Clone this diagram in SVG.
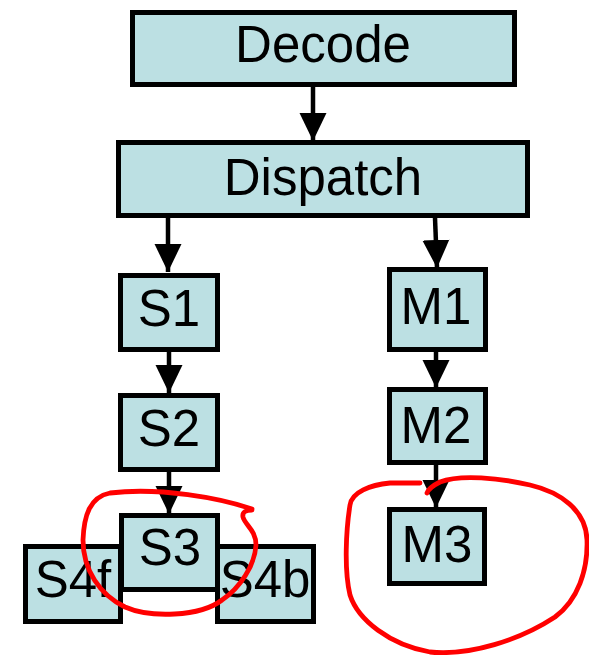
<svg xmlns="http://www.w3.org/2000/svg" width="589" height="655" viewBox="0 0 589 655">
  <style>
    .box { fill: #bce0e3; stroke: #000; stroke-width: 5; }
    .lbl { font-family: "Liberation Sans", Arial, sans-serif; font-size: 51px; fill: #000; text-anchor: middle; }
    .edge { stroke: #000; stroke-width: 4.5; fill: none; marker-end: url(#head); }
    .mark { stroke: #ff0000; stroke-width: 4.8; fill: none; stroke-linecap: round; stroke-linejoin: round; }
  </style>
  <defs>
    <marker id="head" markerUnits="userSpaceOnUse" markerWidth="28" markerHeight="28" viewBox="0 0 27 26" refX="27" refY="13" orient="auto">
      <path d="M0,0 L27,13 L0,26 Z" fill="#000"/>
    </marker>
  </defs>
  <rect width="589" height="655" fill="#fff"/>

  <!-- connectors -->
  <g id="connectors">
    <line class="edge" x1="313" y1="87" x2="313" y2="141"/>
    <line class="edge" x1="168" y1="218" x2="168" y2="272"/>
    <line class="edge" x1="435" y1="218" x2="437" y2="268"/>
    <line class="edge" x1="169" y1="352" x2="169" y2="393"/>
    <line class="edge" x1="436" y1="352" x2="436" y2="388"/>
    <line class="edge" x1="169" y1="472" x2="169" y2="514"/>
    <line class="edge" x1="436" y1="465" x2="436" y2="508"/>
  </g>

  <!-- nodes -->
  <g id="decode">
    <rect class="box" x="132.5" y="12.5" width="382" height="72"/>
    <text class="lbl" x="323" y="62">Decode</text>
  </g>
  <g id="dispatch">
    <rect class="box" x="118.5" y="142.5" width="409" height="73"/>
    <text class="lbl" x="323" y="195">Dispatch</text>
  </g>
  <g id="s1">
    <rect class="box" x="120.5" y="275.5" width="97" height="74"/>
    <text class="lbl" x="169" y="326">S1</text>
  </g>
  <g id="m1">
    <rect class="box" x="389.5" y="269.5" width="96" height="80"/>
    <text class="lbl" x="436" y="324">M1</text>
  </g>
  <g id="s2">
    <rect class="box" x="120.5" y="395.5" width="97" height="74"/>
    <text class="lbl" x="169" y="446">S2</text>
  </g>
  <g id="m2">
    <rect class="box" x="389.5" y="389.5" width="96" height="73"/>
    <text class="lbl" x="436" y="443">M2</text>
  </g>
  <g id="s4f">
    <rect class="box" x="25.5" y="546.5" width="95" height="75"/>
    <text class="lbl" x="73" y="597">S4f</text>
  </g>
  <g id="s4b">
    <rect class="box" x="217.5" y="546.5" width="96" height="75"/>
    <text class="lbl" x="265" y="597">S4b</text>
  </g>
  <g id="s3">
    <rect class="box" x="121.5" y="515.5" width="96" height="74"/>
    <text class="lbl" x="170" y="565">S3</text>
  </g>
  <g id="m3">
    <rect class="box" x="389.5" y="509.5" width="95" height="74"/>
    <text class="lbl" x="437" y="562">M3</text>
  </g>

  <!-- hand-drawn highlight loops -->
  <g id="highlights">
    <path class="mark" d="M252,509 C220,498 160,487 110,493 C90,497 84,515 83,540 C83,570 100,595 125,607 C150,618 200,617 222,600 C240,588 255,565 256,545 C256,530 245,525 243,517 C242,512 246,510 252,510"/>
    <path class="mark" d="M420,483 L390,483 C370,485 352,492 350,505 C346,530 344,570 350,595 C358,620 390,645 430,652 C470,656 520,640 555,617 C578,600 588,570 587,540 C586,510 560,492 530,485 C500,478 460,474 440,482 C432,486 428,490 427,493"/>
  </g>
</svg>
